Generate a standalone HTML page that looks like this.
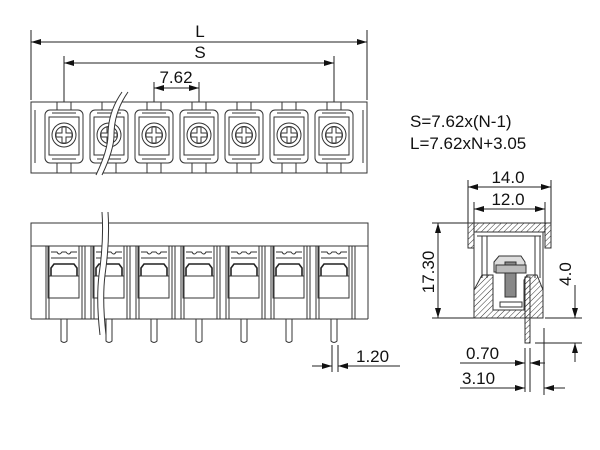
<!DOCTYPE html>
<html><head><meta charset="utf-8"><style>
html,body{margin:0;padding:0;background:#fff;width:600px;height:450px;overflow:hidden}
svg{display:block}
text{font-family:"Liberation Sans",sans-serif;fill:#111}
</style></head><body>
<svg width="600" height="450" viewBox="0 0 600 450" xmlns="http://www.w3.org/2000/svg">
<defs>
<marker id="a" viewBox="0 0 10 6" refX="10" refY="3" markerWidth="10" markerHeight="6" orient="auto-start-reverse" markerUnits="userSpaceOnUse"><path d="M0,0 L10,3 L0,6z" fill="#111"/></marker>
<pattern id="h" width="4" height="4" patternUnits="userSpaceOnUse" patternTransform="rotate(45)"><line x1="0" y1="0" x2="0" y2="4" stroke="#333" stroke-width="1"/></pattern>
<g id="cellT">
<rect x="-19" y="110" width="38" height="53" rx="5" fill="#fff" stroke="#333"/>
<rect x="-15" y="117" width="30" height="38" fill="none" stroke="#333"/>
<line x1="-12" y1="113" x2="12" y2="113" stroke="#333"/>
<line x1="-12" y1="159" x2="12" y2="159" stroke="#333"/>
<line x1="-7" y1="102" x2="-7" y2="110" stroke="#333"/>
<line x1="7" y1="102" x2="7" y2="110" stroke="#333"/>
<line x1="-7" y1="163" x2="-7" y2="173" stroke="#333"/>
<line x1="7" y1="163" x2="7" y2="173" stroke="#333"/>
<circle cx="0" cy="135" r="12" fill="none" stroke="#333"/>
<circle cx="0" cy="135" r="8.5" fill="none" stroke="#333"/>
<path d="M-2,127 h4 v6 h6 v4 h-6 v6 h-4 v-6 h-6 v-4 h6z" fill="none" stroke="#333"/>
</g>
<g id="cellF">
<line x1="-18" y1="246" x2="-18" y2="319" stroke="#333"/>
<line x1="-15" y1="246" x2="-15" y2="319" stroke="#333"/>
<line x1="18" y1="246" x2="18" y2="319" stroke="#333"/>
<line x1="21" y1="246" x2="21" y2="319" stroke="#333"/>
<rect x="-16" y="246" width="31" height="52" fill="none" stroke="#333"/>
<path d="M-13,252 h6 q2,4 5,0 h4 q3,4 5,0 h6" fill="none" stroke="#333"/>
<line x1="-13" y1="258" x2="13" y2="258" stroke="#333"/>
<path d="M-13,276 v-8 l3,-4 h20 l3,4 v8" fill="none" stroke="#222" stroke-width="1.6"/>
<line x1="-16" y1="276" x2="15" y2="276" stroke="#333"/>
<path d="M-3,319 v22 q3,3 6,0 v-22" fill="none" stroke="#333"/>
</g>
</defs>
<g stroke="#222" stroke-width="1" fill="none">
<line x1="31" y1="30" x2="31" y2="100"/><line x1="367" y1="30" x2="367" y2="100"/>
<line x1="31" y1="42" x2="367" y2="42" marker-start="url(#a)" marker-end="url(#a)"/>
<line x1="64" y1="56" x2="64" y2="135"/><line x1="334" y1="56" x2="334" y2="135"/>
<line x1="64" y1="63" x2="334" y2="63" marker-start="url(#a)" marker-end="url(#a)"/>
<line x1="154" y1="82" x2="154" y2="135"/><line x1="199" y1="82" x2="199" y2="135"/>
<line x1="154" y1="88" x2="199" y2="88" marker-start="url(#a)" marker-end="url(#a)"/>
<rect x="31" y="102" width="336" height="71" fill="#fff" stroke="#333"/>
<line x1="35" y1="110" x2="35" y2="163" stroke="#333"/>
<line x1="363" y1="110" x2="363" y2="163" stroke="#333"/>
</g>
<use href="#cellT" x="64"/><use href="#cellT" x="109"/><use href="#cellT" x="154"/><use href="#cellT" x="199"/><use href="#cellT" x="244"/><use href="#cellT" x="289"/><use href="#cellT" x="334"/>
<path d="M96,175 Q108,150 108,135 Q108,112 122,92 L128,92 Q114,112 114,135 Q114,150 102,175z" fill="#fff" stroke="none"/>
<path d="M96,175 Q108,150 108,135 Q108,112 122,92 M102,175 Q114,150 114,135 Q114,112 128,92" fill="none" stroke="#333"/>
<g fill="none" stroke="#333">
<rect x="31" y="223" width="337" height="23" fill="#fff"/>
<line x1="31" y1="246" x2="31" y2="319"/><line x1="368" y1="246" x2="368" y2="319"/>
<line x1="31" y1="319" x2="368" y2="319"/>
</g>
<use href="#cellF" x="64"/><use href="#cellF" x="109"/><use href="#cellF" x="154"/><use href="#cellF" x="199"/><use href="#cellF" x="244"/><use href="#cellF" x="289"/><use href="#cellF" x="334"/>
<path d="M100,335 Q96,300 99,275 Q104,240 102,212 L108,212 Q110,240 105,275 Q102,300 106,335z" fill="#fff" stroke="none"/>
<path d="M100,335 Q96,300 99,275 Q104,240 102,212 M106,335 Q102,300 105,275 Q110,240 108,212" fill="none" stroke="#333"/>
<g stroke="#222" fill="none">
<line x1="332" y1="345" x2="332" y2="372"/><line x1="338" y1="345" x2="338" y2="372"/>
<line x1="312" y1="366" x2="332" y2="366" marker-end="url(#a)"/>
<line x1="358" y1="366" x2="338" y2="366" marker-end="url(#a)"/>
<line x1="358" y1="366" x2="400" y2="366"/>
</g>
<text x="356" y="362" font-size="17">1.20</text>
<text x="410" y="127" font-size="17">S=7.62x(N-1)</text>
<text x="410" y="149" font-size="17">L=7.62xN+3.05</text>
<g stroke="#222" fill="none">
<line x1="468" y1="180" x2="468" y2="223"/><line x1="551" y1="180" x2="551" y2="223"/>
<line x1="468" y1="187" x2="551" y2="187" marker-start="url(#a)" marker-end="url(#a)"/>
<line x1="474" y1="202" x2="474" y2="232"/><line x1="545" y1="202" x2="545" y2="232"/>
<line x1="474" y1="209" x2="545" y2="209" marker-start="url(#a)" marker-end="url(#a)"/>
<line x1="432" y1="223" x2="468" y2="223"/><line x1="432" y1="318" x2="474" y2="318"/>
<line x1="438" y1="223" x2="438" y2="318" marker-start="url(#a)" marker-end="url(#a)"/>
<line x1="545" y1="318" x2="582" y2="318"/><line x1="535" y1="343" x2="582" y2="343"/>
<line x1="575" y1="285" x2="575" y2="318" marker-end="url(#a)"/>
<line x1="575" y1="362" x2="575" y2="343" marker-end="url(#a)"/>
<line x1="525" y1="348" x2="525" y2="392"/><line x1="530" y1="348" x2="530" y2="392"/>
<line x1="460" y1="363" x2="525" y2="363" marker-end="url(#a)"/>
<line x1="545" y1="363" x2="530" y2="363" marker-end="url(#a)"/>
<line x1="544" y1="328" x2="544" y2="395"/>
<line x1="460" y1="388" x2="525" y2="388"/>
<line x1="505" y1="388" x2="525" y2="388" marker-end="url(#a)"/>
<line x1="565" y1="388" x2="544" y2="388" marker-end="url(#a)"/>
</g>
<g stroke="#333">
<path d="M468,223 H551 V248 H545 V232 H474 V248 H468z" fill="url(#h)"/>
<rect x="474" y="232" width="69" height="86" fill="#fff"/>
<line x1="482" y1="236" x2="482" y2="278" /><line x1="487" y1="236" x2="487" y2="278"/>
<line x1="535" y1="236" x2="535" y2="278"/><line x1="540" y1="236" x2="540" y2="278"/>
<line x1="477" y1="236" x2="541" y2="236"/>
<path d="M474,318 V290 L482,275 H493 V310 H524 V280 L527,275 H537 L543,290 V318z" fill="url(#h)"/>
<path d="M494,262 L499,256 H521 L525,262 V272 H494z" fill="#ddd"/>
<rect x="505" y="262" width="11" height="35" fill="#888"/>
<rect x="496" y="265" width="30" height="8" fill="#bbb"/>
<rect x="500" y="302" width="22" height="5" fill="#fff"/>
<rect x="525" y="277" width="5" height="66" fill="url(#h)"/>
</g>
<text x="508" y="183" font-size="17" text-anchor="middle">14.0</text>
<text x="508" y="205" font-size="17" text-anchor="middle">12.0</text>
<text transform="translate(434,272) rotate(-90)" font-size="17" text-anchor="middle">17.30</text>
<text transform="translate(571,274) rotate(-90)" font-size="17" text-anchor="middle">4.0</text>
<text x="466" y="359" font-size="17">0.70</text>
<text x="462" y="384" font-size="17">3.10</text>
<text x="200" y="37" font-size="17" text-anchor="middle">L</text>
<text x="200" y="58" font-size="17" text-anchor="middle">S</text>
<text x="176" y="83" font-size="17" text-anchor="middle">7.62</text>
</svg>
</body></html>
